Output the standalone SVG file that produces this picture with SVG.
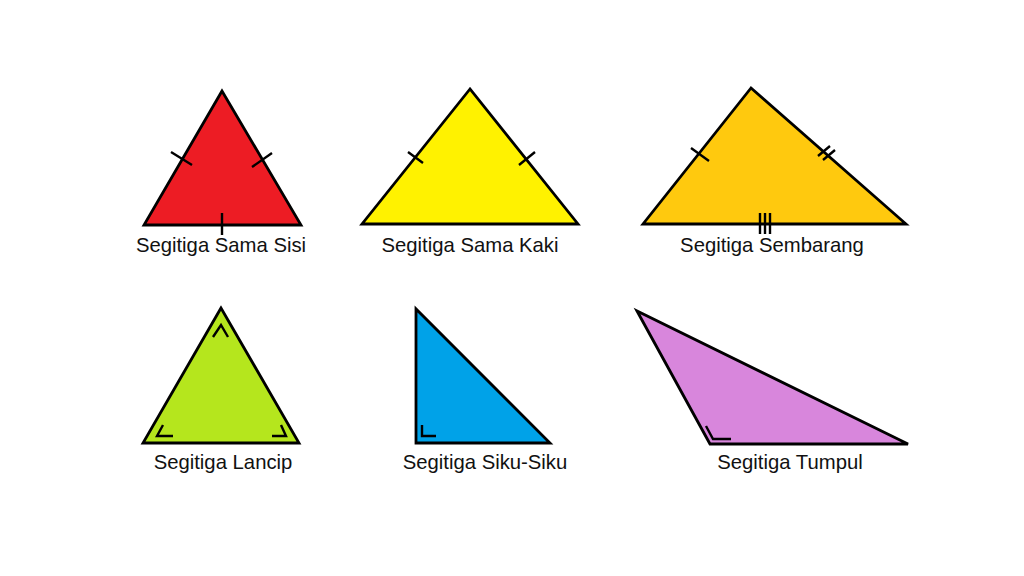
<svg xmlns="http://www.w3.org/2000/svg" width="1024" height="576" viewBox="0 0 1024 576">
<style>
.tri{stroke:#000;stroke-width:2.8;stroke-linejoin:miter}
.mk{stroke:#000;stroke-width:2.4;fill:none}
.lbl{font-family:"Liberation Sans",Arial,sans-serif;font-size:20.3px;fill:#111;text-anchor:middle}
</style>
<rect width="1024" height="576" fill="#fff"/>
<g id="sama-sisi">
<polygon class="tri" fill="#ED1C24" points="222,91 144,225 301,225"/>
<path class="mk" d="M171,152 L192,165 M252,167 L272,153 M222,213 L222,235"/>
<text class="lbl" x="221" y="252">Segitiga Sama Sisi</text>
</g>
<g id="sama-kaki">
<polygon class="tri" fill="#FFF200" points="470,89 362,224 578,224"/>
<path class="mk" d="M408,152 L423,163 M519,165 L535,152"/>
<text class="lbl" x="470" y="252">Segitiga Sama Kaki</text>
</g>
<g id="sembarang">
<polygon class="tri" fill="#FFC90E" points="751,88 643,224 906,224"/>
<path class="mk" d="M691,148 L709,161 M818,156 L830,146 M823,160 L835,150 M760,213 L760,234 M765,213 L765,234 M770,213 L770,234"/>
<text class="lbl" x="772" y="252">Segitiga Sembarang</text>
</g>
<g id="lancip">
<polygon class="tri" fill="#B5E61D" points="221,308 143,443 299,443"/>
<path class="mk" d="M213,337 L221,325 L228,337 M163,425 L157,436 L173,436 M272,436 L286,436 L281,425"/>
<text class="lbl" x="223" y="469">Segitiga Lancip</text>
</g>
<g id="siku-siku">
<polygon class="tri" fill="#00A2E8" points="416,309 416,443 550,443"/>
<path class="mk" d="M422,425 L422,436 L436,436"/>
<text class="lbl" x="485" y="469">Segitiga Siku-Siku</text>
</g>
<g id="tumpul">
<polygon class="tri" fill="#D886DC" points="637,311 710,444 908,444"/>
<path class="mk" d="M706,426 L713,439 L731,439"/>
<text class="lbl" x="790" y="469">Segitiga Tumpul</text>
</g>
<g id="connectors"></g>
</svg>
